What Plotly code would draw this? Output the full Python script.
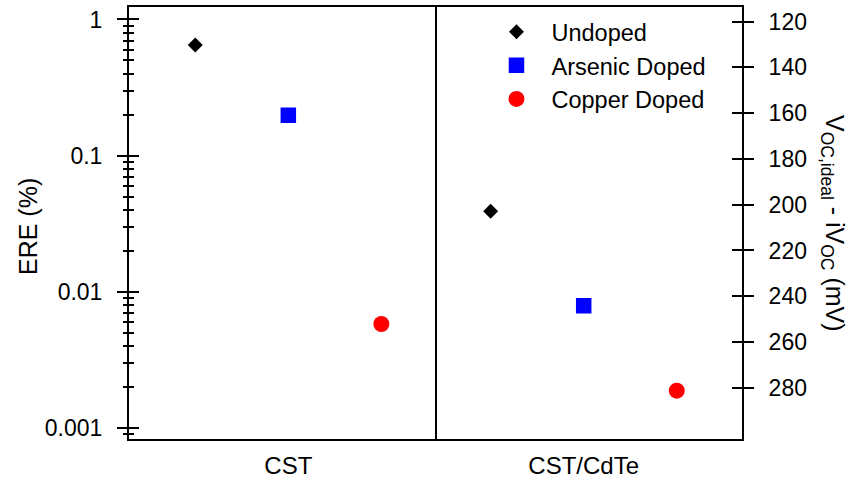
import math
import plotly.graph_objects as go

# Sample groups on the x axis
categories = ["CST", "CST/CdTe"]

# External radiative efficiency (%) per sample
ere_undoped = [0.65, 0.039]
ere_arsenic = [0.198, 0.0079]
ere_copper = [0.0058, 0.00188]

series_names = ["Undoped", "Arsenic Doped", "Copper Doped"]

# Right axis tick labels (mV)
dv_ticks = [120, 140, 160, 180, 200, 220, 240, 260, 280]

KT_Q_MV = 25.85  # thermal voltage at ~300 K, in mV


def ere_to_dv(ere_pct):
    """Non-radiative voltage loss from ERE (%)."""
    return -KT_Q_MV * math.log(ere_pct / 100.0)


ere_range = [0.00083, 1.235]
log_range = [math.log10(ere_range[0]), math.log10(ere_range[1])]
dv_range = [ere_to_dv(ere_range[0]), ere_to_dv(ere_range[1])]

# minor tick positions (2..9 within each decade), as log10 values
minor_log = [math.log10(m * 10 ** e) for e in range(-4, 1) for m in range(2, 10)]
major_log = [-3, -2, -1, 0]

FONT = "Liberation Sans, Arial, sans-serif"
BLACK = "#000000"

fig = go.Figure()

styles = [
    dict(symbol="diamond", color="#000000", size=11.5),
    dict(symbol="square", color="#0000FF", size=15.5),
    dict(symbol="circle", color="#FF0000", size=16),
]
for name, vals, st in zip(series_names, [ere_undoped, ere_arsenic, ere_copper], styles):
    fig.add_trace(go.Scatter(
        x=categories, y=vals, name=name, mode="markers",
        marker=dict(symbol=st["symbol"], color=st["color"], size=st["size"],
                    line=dict(width=0)),
        yaxis="y", xaxis="x",
    ))

# Empty helper traces so that the overlay tick axes are drawn
for ax in ["y2", "y3", "y4", "y5", "y6"]:
    fig.add_trace(go.Scatter(x=categories, y=[None, None], yaxis=ax,
                             showlegend=False, hoverinfo="skip", mode="markers"))

tick_style = dict(tickwidth=2, tickcolor=BLACK, showgrid=False,
                  zeroline=False, automargin=False)

# Overlay axes on the log10 scale that carry only tick marks
def log_tick_axis(vals, length, where):
    return dict(range=log_range, autorange=False, tickmode="array",
                tickvals=vals, ticks=where, ticklen=length,
                showticklabels=False, showline=False, overlaying="y",
                side="left", **tick_style)


fig.update_layout(
    width=865, height=478,
    margin=dict(l=129, r=123, t=7, b=39, autoexpand=False),
    paper_bgcolor="white", plot_bgcolor="white",
    font=dict(family=FONT, size=23, color=BLACK),
    scattermode="group", scattergap=0.055,
    showlegend=True,
    legend=dict(
        x=0.575, y=0.993, xanchor="left", yanchor="top",
        font=dict(family=FONT, size=23.5, color=BLACK),
        bgcolor="rgba(0,0,0,0)", borderwidth=0,
        itemwidth=60, tracegroupgap=0,
    ),
    xaxis=dict(
        type="category", range=[-0.5393, 1.5359], autorange=False,
        showline=True, linecolor=BLACK, linewidth=2, mirror=True,
        ticks="", showgrid=False, zeroline=False, automargin=False,
        tickfont=dict(size=24), ticklabelstandoff=4,
    ),
    yaxis=dict(
        type="log", range=log_range, autorange=False,
        tickmode="linear", tick0=0, dtick=1, exponentformat="none",
        ticks="outside", ticklen=10, side="left",
        showline=True, linecolor=BLACK, linewidth=2,
        ticklabelstandoff=10, tickfont=dict(size=23), **tick_style,
    ),
    yaxis3=log_tick_axis(major_log, 10, "inside"),
    yaxis5=log_tick_axis(minor_log, 5, "outside"),
    yaxis6=log_tick_axis(minor_log, 5, "inside"),
    yaxis2=dict(
        range=dv_range, autorange=False, tickmode="array", tickvals=dv_ticks,
        side="right", ticks="outside", ticklen=10, overlaying="y",
        showline=True, linecolor=BLACK, linewidth=2,
        ticklabelstandoff=10, tickfont=dict(size=23), **tick_style,
    ),
    yaxis4=dict(
        range=dv_range, autorange=False, tickmode="array", tickvals=dv_ticks,
        side="right", ticks="inside", ticklen=10, overlaying="y",
        showticklabels=False, showline=False, **tick_style,
    ),
    shapes=[dict(
        type="line", xref="x", yref="paper", x0=0.5, x1=0.5, y0=0, y1=1,
        line=dict(color=BLACK, width=2),
    )],
    annotations=[
        dict(text="ERE (%)", xref="paper", yref="paper", x=0, y=0.5,
             xanchor="center", yanchor="middle", xshift=-101, yshift=-4,
             textangle=-90, showarrow=False, font=dict(size=25)),
        dict(text="V<sub>OC,ideal</sub> - iV<sub>OC</sub> (mV)",
             xref="paper", yref="paper", x=1, y=0.5,
             xanchor="center", yanchor="middle", xshift=91,
             textangle=90, showarrow=False, font=dict(size=25)),
    ],
)

fig.write_html("out.html")
